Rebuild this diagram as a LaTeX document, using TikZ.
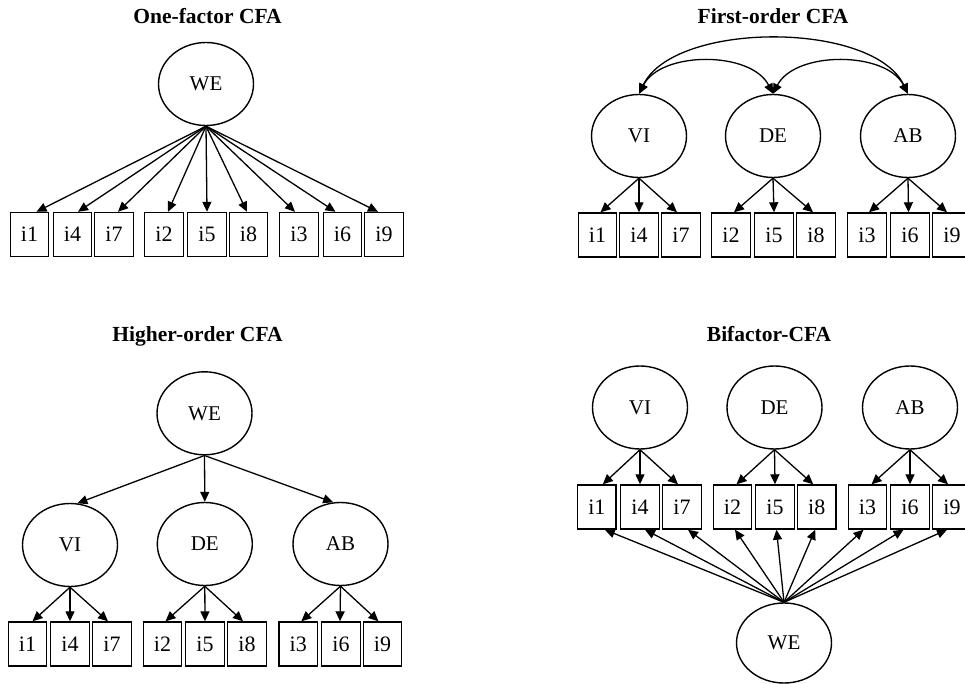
\documentclass[tikz,border=0pt]{standalone}
\usepackage{fontspec}
\setmainfont{Liberation Serif}
\usetikzlibrary{shapes.geometric,arrows.meta}
\begin{document}
\begin{tikzpicture}[x=1pt,y=-1pt,
  lat/.style={ellipse,draw,line width=1.4pt,minimum width=95pt,minimum height=83pt,inner sep=0pt,font=\fontsize{21}{24}\selectfont},
  obs/.style={rectangle,draw,line width=1.4pt,minimum width=38.5pt,minimum height=44pt,inner sep=0pt,font=\fontsize{22}{26}\selectfont},
  ttl/.style={anchor=base,inner sep=0pt,font=\bfseries\fontsize{21.5}{25}\selectfont},
  arr/.style={line width=1.3pt,-{Triangle[length=10pt,width=9pt]}},
  cor/.style={line width=1.3pt,{Triangle[length=10pt,width=9pt]}-{Triangle[length=10pt,width=9pt]}},
]
\useasboundingbox (0,0) rectangle (965,684);
\clip (0,0) rectangle (965,684);

% ---------- Panel 1: One-factor CFA ----------
\node[ttl] (t1) at (207.5,24) {One-factor CFA};
\node[lat] (WEa) at (206,84) {WE};
\foreach \n/\x in {1/29.5,4/72.5,7/114,2/164,5/207,8/248.5,3/299,6/342.5,9/384}
  \node[obs] (a\n) at (\x,234.5) {i\n};
\foreach \n/\d in {1/7,4/5.5,7/4,2/4,5/0,8/-1.5,3/-4,6/-7,9/-6}
  \draw[arr] (WEa.south) -- ([xshift=\d pt]a\n.north);

% ---------- Panel 2: First-order CFA ----------
\node[ttl] (t2) at (773,24) {First-order CFA};
\node[lat] (VIb) at (639,136) {VI};
\node[lat] (DEb) at (773,136) {DE};
\node[lat] (ABb) at (908,136) {AB};
\foreach \n/\x in {1/597.5,4/639,7/681,2/731,5/774,8/816,3/867,6/910,9/952}
  \node[obs] (b\n) at (\x,235) {i\n};
\foreach \n/\d in {1/3,4/0,7/-4} \draw[arr] (VIb.south) -- ([xshift=\d pt]b\n.north);
\foreach \n/\d in {2/3,5/0,8/-3} \draw[arr] (DEb.south) -- ([xshift=\d pt]b\n.north);
\foreach \n/\d in {3/2,6/-1.5,9/-5} \draw[arr] (ABb.south) -- ([xshift=\d pt]b\n.north);
\draw[cor] (VIb.north) .. controls +(35,-73) and +(-35,-73) .. (ABb.north);
\draw[cor] (VIb.north) .. controls +(22,-43) and +(-22,-43) .. (DEb.north);
\draw[cor] (DEb.north) .. controls +(22,-43) and +(-22,-43) .. (ABb.north);

% ---------- Panel 3: Higher-order CFA ----------
\node[ttl] (t3) at (197.5,341.5) {Higher-order CFA};
\node[lat] (WEc) at (204.5,413.3) {WE};
\node[lat] (VIc) at (70,545) {VI};
\node[lat] (DEc) at (204.8,544) {DE};
\node[lat] (ABc) at (340.5,544) {AB};
\draw[arr] (WEc.south) -- (VIc.80);
\draw[arr] (WEc.south) -- (DEc.north);
\draw[arr] (WEc.south) -- (ABc.100);
\foreach \n/\x in {1/27.5,4/70,7/112,2/162.5,5/205,8/247,3/298.3,6/341,9/382.5}
  \node[obs] (c\n) at (\x,644) {i\n};
\foreach \n/\d in {1/5,4/0,7/-4} \draw[arr] (VIc.south) -- ([xshift=\d pt]c\n.north);
\foreach \n/\d in {2/3,5/0,8/-4} \draw[arr] (DEc.south) -- ([xshift=\d pt]c\n.north);
\foreach \n/\d in {3/3,6/-1,9/-4} \draw[arr] (ABc.south) -- ([xshift=\d pt]c\n.north);

% ---------- Panel 4: Bifactor-CFA ----------
\node[ttl] (t4) at (769,341.5) {Bifactor-CFA};
\node[lat] (VId) at (640,407.5) {VI};
\node[lat] (DEd) at (774.5,407.5) {DE};
\node[lat] (ABd) at (910,407.5) {AB};
\node[lat,minimum height=80pt] (WEd) at (784,643) {WE};
\foreach \n/\x in {1/596.8,4/640,7/682,2/732.5,5/775,8/816.7,3/867.5,6/910,9/952}
  \node[obs] (d\n) at (\x,507) {i\n};
\foreach \n/\d in {1/6,4/0,7/-4} \draw[arr] (VId.south) -- ([xshift=\d pt]d\n.north);
\foreach \n/\d in {2/4,5/0,8/-3.5} \draw[arr] (DEd.south) -- ([xshift=\d pt]d\n.north);
\foreach \n/\d in {3/4,6/0,9/-4} \draw[arr] (ABd.south) -- ([xshift=\d pt]d\n.north);
\foreach \n/\d in {1/8,4/5,7/6,2/2.5,5/1.5,8/-1.5,3/-4,6/-6.5,9/-5}
  \draw[arr] (WEd.north) -- ([xshift=\d pt]d\n.south);
\end{tikzpicture}
\end{document}
